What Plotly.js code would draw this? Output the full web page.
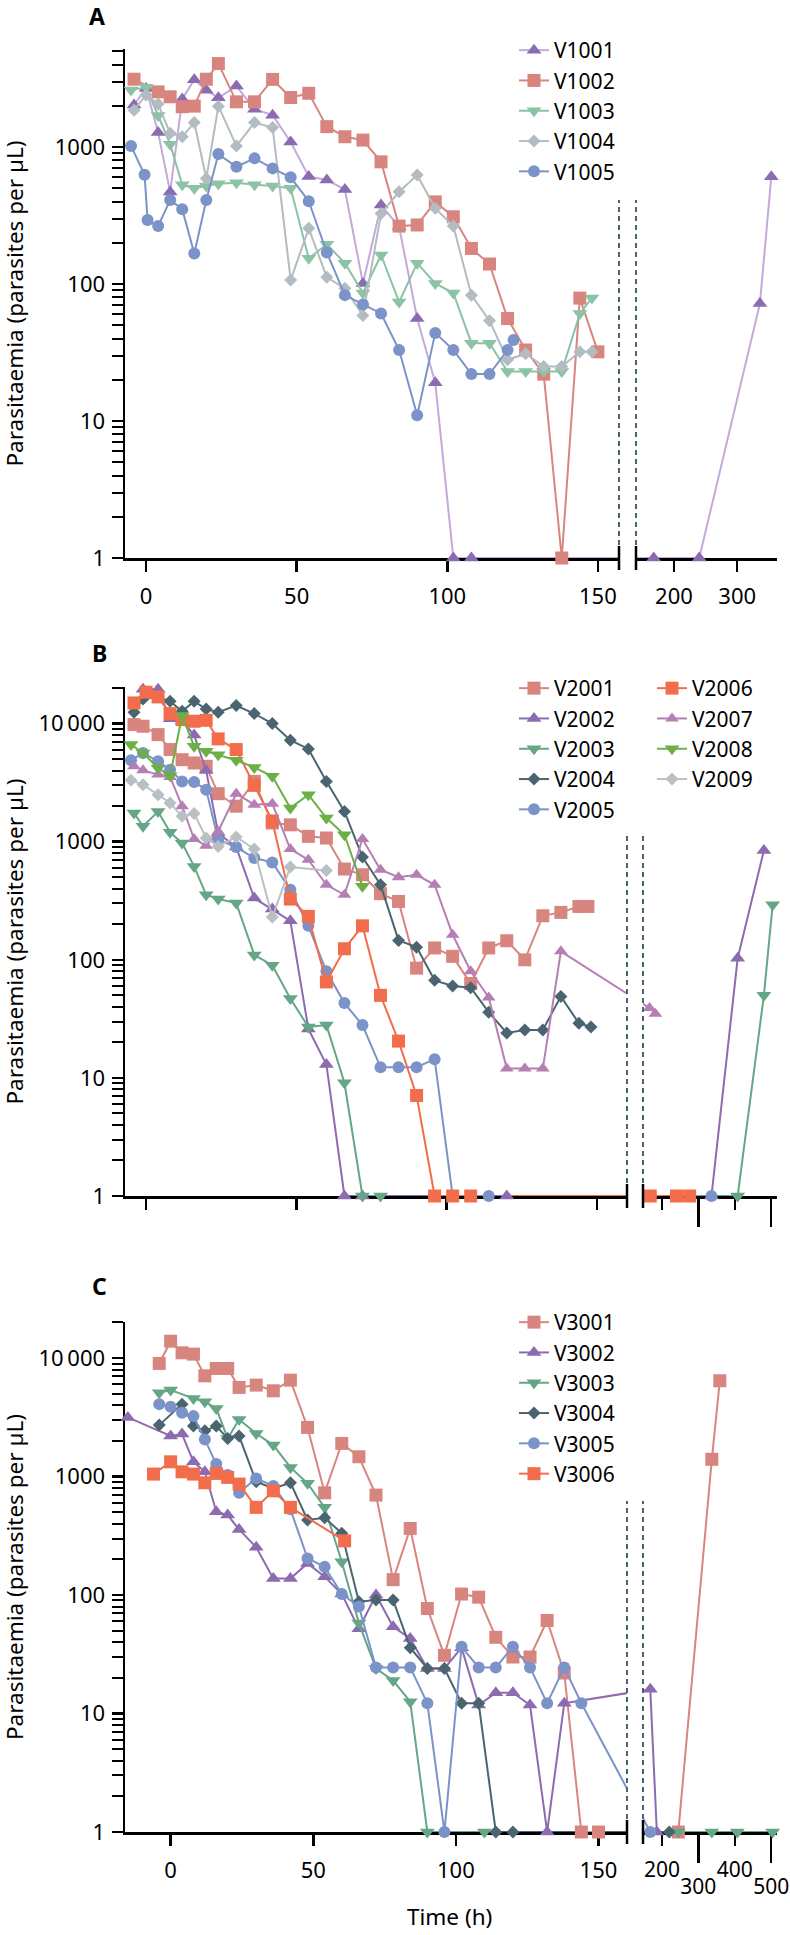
<!DOCTYPE html>
<html><head><meta charset="utf-8">
<script src="https://cdn.plot.ly/plotly-3.0.1.min.js"></script>
<style>html,body{margin:0;padding:0;background:#fff}#chart{width:790px;height:1935px}</style>
</head><body><div id="chart"></div>
<script>
// ---------------- DATA (time in h, parasitaemia per µL) ----------------
// Panel A
const V1001_t = [-4, 0, 4, 8, 12, 16, 20, 24, 30, 36, 42, 48, 54, 60, 66, 72, 78, 84, 90, 96, 102, 108, 168, 240, 336, 354];
const V1001_v = [2030, 2680, 1280, 470, 2240, 3100, 2600, 2290, 2790, 1890, 1710, 1090, 610, 575, 490, 101, 377, 262, 56, 19, 1, 1, 1, 1, 72, 607];
const V1002_t = [-4, 4, 8, 12, 16, 20, 24, 30, 36, 42, 48, 54, 60, 66, 72, 78, 84, 90, 96, 102, 108, 114, 120, 126, 132, 138, 144, 150];
const V1002_v = [3130, 2530, 2330, 1970, 1990, 3130, 4070, 2140, 2140, 3120, 2300, 2470, 1410, 1190, 1125, 780, 265, 270, 398, 310, 182, 140, 56, 33, 22, 1, 79, 32];
const V1003_t = [-5, 0, 4, 8, 12, 16, 20, 24, 30, 36, 42, 48, 54, 60, 66, 72, 78, 84, 90, 96, 102, 108, 114, 120, 126, 132, 138, 144, 148];
const V1003_v = [2610, 2730, 1700, 1050, 530, 500, 520, 540, 550, 530, 520, 500, 154, 195, 142, 86, 163, 74, 142, 101, 86, 37, 37, 23, 23, 23, 23, 61, 79];
const V1004_t = [-4, 0, 4, 8, 12, 16, 20, 24, 30, 36, 42, 48, 54, 60, 66, 72, 78, 84, 90, 96, 102, 108, 114, 120, 126, 132, 138, 144, 148];
const V1004_v = [1860, 2400, 2060, 1260, 1190, 1510, 590, 1990, 1020, 1510, 1390, 107, 255, 112, 93, 59, 328, 472, 625, 357, 265, 83, 54, 28, 31, 25, 25, 32, 32];
const V1005_t = [-5, -0.5, 0.5, 4, 8, 12, 16, 20, 24, 30, 36, 42, 48, 54, 60, 66, 72, 78, 84, 90, 96, 102, 108, 114, 120, 122];
const V1005_v = [1020, 627, 293, 265, 410, 352, 167, 410, 889, 718, 827, 699, 601, 403, 170, 83, 71, 61, 33, 11, 44, 33, 22, 22, 33, 39];
// Panel B
const V2001_t = [-4, -1, 4, 8, 12, 16, 20, 24, 30, 36, 42, 48, 54, 60, 66, 72, 78, 84, 90, 96, 102, 108, 114, 120, 126, 132, 138, 144, 147];
const V2001_v = [9810, 9500, 8070, 6030, 4950, 4640, 4350, 2550, 2000, 3240, 1440, 1390, 1110, 1075, 587, 525, 363, 312, 85, 126, 107, 63, 126, 145, 100, 236, 252, 283, 283];
const V2002_t = [-1, 4, 8, 12, 16, 20, 24, 30, 36, 42, 48, 54, 60, 66, 72, 120, 336, 408, 480];
const V2002_v = [19500, 19500, 11000, 10500, 8000, 4000, 1180, 900, 333, 269, 214, 26, 13, 1, 1, 1, 1, 103, 844];
const V2003_t = [-4, -1, 4, 8, 12, 16, 20, 24, 30, 36, 42, 48, 54, 60, 66, 72, 78, 408, 480, 504];
const V2003_v = [1750, 1350, 1800, 1200, 975, 618, 355, 327, 302, 110, 90, 47, 27, 28, 9.1, 1, 1, 1, 50, 292];
const V2004_t = [-4, -1, 4, 8, 12, 16, 20, 24, 30, 36, 42, 48, 54, 60, 66, 72, 78, 84, 90, 96, 102, 108, 114, 120, 126, 132, 138, 144, 148];
const V2004_v = [12470, 16190, 16830, 15450, 12700, 15450, 13300, 12470, 14220, 12150, 10000, 7230, 6100, 3240, 1806, 741, 432, 146, 128, 67, 60, 58, 36, 24, 25.5, 25.5, 49, 29, 27];
const V2005_t = [-5, -1, 4, 8, 12, 16, 20, 24, 30, 36, 42, 48, 54, 60, 66, 72, 78, 84, 90, 96, 102, 114, 336];
const V2005_v = [4890, 5640, 4790, 4070, 3240, 3200, 2760, 1040, 900, 728, 668, 392, 194, 80, 43, 28, 12.3, 12.3, 12.3, 14.4, 1, 1, 1];
const V2006_t = [-4, 0, 4, 8, 12, 16, 20, 24, 30, 36, 42, 48, 54, 60, 66, 72, 78, 84, 90, 96, 102, 108, 168, 240, 276];
const V2006_v = [14970, 18440, 16830, 12150, 10810, 10470, 10670, 7420, 6030, 3000, 1500, 327, 233, 65, 124, 194, 50, 20.5, 7.1, 1, 1, 1, 1, 1, 1];
const V2007_t = [-4, -1, 4, 8, 12, 16, 20, 24, 30, 36, 42, 48, 54, 60, 66, 72, 78, 84, 90, 96, 102, 108, 114, 120, 126, 132, 138, 166, 182];
const V2007_v = [4350, 4020, 3700, 3535, 2000, 1054, 925, 1222, 2550, 2060, 2100, 867, 703, 432, 355, 1054, 579, 500, 525, 432, 163, 80, 48, 12, 12, 12, 118, 39, 35];
const V2008_t = [-5, -1, 4, 8, 12, 16, 20, 24, 30, 36, 42, 48, 54, 60, 66, 72];
const V2008_v = [6640, 5640, 4210, 3625, 11700, 6430, 5820, 5460, 4890, 4260, 3575, 1930, 2500, 1585, 1146, 420];
const V2009_t = [-5, -1, 4, 8, 12, 16, 20, 24, 30, 36, 42, 48, 60];
const V2009_v = [3310, 3040, 2500, 2130, 1640, 1730, 1075, 912, 1096, 867, 230, 611, 571];
// Panel C
const V3001_t = [-4, 0, 4, 8, 12, 16, 20, 24, 30, 36, 42, 48, 54, 60, 66, 72, 78, 84, 90, 96, 102, 108, 114, 120, 126, 132, 138, 144, 150, 245, 337, 359];
const V3001_v = [9020, 13900, 11090, 10810, 7090, 8180, 8180, 5660, 5920, 5300, 6520, 2600, 730, 1905, 1470, 698, 135, 365, 77, 31, 102, 96, 44, 30, 30, 61, 22, 1, 1, 1, 1400, 6440];
const V3002_t = [-15, 0, 4, 8, 12, 16, 20, 24, 30, 36, 42, 48, 54, 60, 66, 72, 78, 84, 90, 96, 102, 108, 114, 120, 126, 132, 138, 168, 186];
const V3002_v = [3160, 2200, 2285, 1333, 1097, 505, 473, 358, 253, 138, 138, 185, 143, 102, 52, 100, 54, 43, 24, 24, 36, 11.8, 15, 15, 11.8, 1, 12.2, 16, 1];
const V3003_t = [-4, 0, 8, 12, 16, 20, 24, 30, 36, 42, 48, 54, 60, 66, 72, 78, 84, 90, 110, 245, 337, 407, 504];
const V3003_v = [5100, 5370, 4570, 4280, 3760, 2100, 3040, 2310, 1845, 1196, 877, 550, 191, 58, 24, 19, 12.6, 1, 1, 1, 1, 1, 1];
const V3004_t = [-4, 4, 8, 12, 16, 20, 24, 30, 36, 42, 48, 54, 60, 66, 72, 78, 84, 90, 96, 102, 108, 114, 120, 220];
const V3004_v = [2720, 4090, 2670, 2440, 2670, 2100, 2200, 904, 794, 887, 430, 450, 332, 88, 91, 91, 36, 24, 24, 12.2, 12.2, 1, 1, 1];
const V3005_t = [-4, 0, 4, 8, 12, 16, 20, 24, 30, 36, 42, 48, 54, 60, 66, 72, 78, 84, 90, 96, 102, 108, 114, 120, 126, 132, 138, 144, 168];
const V3005_v = [4090, 3880, 3460, 3240, 2060, 1275, 1030, 730, 966, 832, 529, 204, 173, 102, 80, 24.5, 24.5, 24.5, 12.2, 1, 36.6, 24.5, 24.5, 36.6, 24.5, 12.2, 24.5, 12.2, 1];
const V3006_t = [-6, 0, 4, 8, 12, 16, 20, 24, 30, 36, 42, 61];
const V3006_v = [1050, 1333, 1097, 1050, 887, 1064, 985, 865, 550, 759, 550, 287];

// Tick labels
const yTickVals = [1, 10, 100, 1000, 10000];
const yTickText = ['1', '10', '100', '1000', '10\u2009000'];
const xTicksLeft = [0, 50, 100, 150];
const xTicksRightA = [200, 300];
const xTicksRightShort = [200, 400];
const xTicksRightLong = [300, 500];

// ---------------- LAYOUT GEOMETRY ----------------
const W = 790, H = 1935;
const FONT = 'Noto Sans, Open Sans, DejaVu Sans, sans-serif';
const TICKSIZE = 22, LEGSIZE = 21, TITLESIZE = 22.5;
const panels = {
  A: {y: 'y',  xl: 'x',  xr: 'x2', lr: [-7, 157],  rr: [140, 363], ld: [125, 619], rd: [636, 777], yd: [49, 558],   yr: [0, 3.716], brk: 158},
  B: {y: 'y2', xl: 'x3', xr: 'x4', lr: [-7, 160],  rr: [148, 516], ld: [125, 627], rd: [643, 777], yd: [687, 1196], yr: [0, 4.31],  brk: 161},
  C: {y: 'y3', xl: 'x5', xr: 'x6', lr: [-16, 160], rr: [148, 516], ld: [125, 627], rd: [643, 777], yd: [1322, 1832], yr: [0, 4.305], brk: 161}
};

const series = [
  {p: 'A', name: 'V1001', t: V1001_t, v: V1001_v, sym: 'triangle-up', mc: '#8b6bb1', lc: '#c4a9da', size: 13, lg: 'legend'},
  {p: 'A', name: 'V1002', t: V1002_t, v: V1002_v, sym: 'square', mc: '#d9857f', lc: '#d9857f', size: 13, lg: 'legend'},
  {p: 'A', name: 'V1003', t: V1003_t, v: V1003_v, sym: 'triangle-down', mc: '#8cc2a5', lc: '#8cc2a5', size: 13, lg: 'legend'},
  {p: 'A', name: 'V1004', t: V1004_t, v: V1004_v, sym: 'diamond', mc: '#b3bcc0', lc: '#b3bcc0', size: 10, lg: 'legend'},
  {p: 'A', name: 'V1005', t: V1005_t, v: V1005_v, sym: 'circle', mc: '#7b93c8', lc: '#7b93c8', size: 12, lg: 'legend'},

  {p: 'B', name: 'V2001', t: V2001_t, v: V2001_v, sym: 'square', mc: '#d9857f', lc: '#d9857f', size: 13, lg: 'legend2'},
  {p: 'B', name: 'V2002', t: V2002_t, v: V2002_v, sym: 'triangle-up', mc: '#8d6bb0', lc: '#8d6bb0', size: 13, lg: 'legend2'},
  {p: 'B', name: 'V2003', t: V2003_t, v: V2003_v, sym: 'triangle-down', mc: '#64a686', lc: '#64a686', size: 13, lg: 'legend2'},
  {p: 'B', name: 'V2004', t: V2004_t, v: V2004_v, sym: 'diamond', mc: '#4b6570', lc: '#4b6570', size: 10, lg: 'legend2'},
  {p: 'B', name: 'V2005', t: V2005_t, v: V2005_v, sym: 'circle', mc: '#7b93c8', lc: '#7b93c8', size: 12, lg: 'legend2'},
  {p: 'B', name: 'V2006', t: V2006_t, v: V2006_v, sym: 'square', mc: '#f26d4b', lc: '#f26d4b', size: 13, lg: 'legend3'},
  {p: 'B', name: 'V2007', t: V2007_t, v: V2007_v, sym: 'triangle-up', mc: '#b67fb4', lc: '#b67fb4', size: 12, lg: 'legend3'},
  {p: 'B', name: 'V2008', t: V2008_t, v: V2008_v, sym: 'triangle-down', mc: '#6cb045', lc: '#6cb045', size: 13, lg: 'legend3'},
  {p: 'B', name: 'V2009', t: V2009_t, v: V2009_v, sym: 'diamond', mc: '#b8c0c4', lc: '#b8c0c4', size: 10, lg: 'legend3'},

  {p: 'C', name: 'V3001', t: V3001_t, v: V3001_v, sym: 'square', mc: '#d9857f', lc: '#d9857f', size: 13, lg: 'legend4'},
  {p: 'C', name: 'V3002', t: V3002_t, v: V3002_v, sym: 'triangle-up', mc: '#8d6bb0', lc: '#8d6bb0', size: 13, lg: 'legend4'},
  {p: 'C', name: 'V3003', t: V3003_t, v: V3003_v, sym: 'triangle-down', mc: '#64a686', lc: '#64a686', size: 13, lg: 'legend4'},
  {p: 'C', name: 'V3004', t: V3004_t, v: V3004_v, sym: 'diamond', mc: '#4b6570', lc: '#4b6570', size: 10, lg: 'legend4'},
  {p: 'C', name: 'V3005', t: V3005_t, v: V3005_v, sym: 'circle', mc: '#7b93c8', lc: '#7b93c8', size: 12, lg: 'legend4'},
  {p: 'C', name: 'V3006', t: V3006_t, v: V3006_v, sym: 'square', mc: '#f26d4b', lc: '#f26d4b', size: 13, lg: 'legend4'}
];

// ---------------- TRACES ----------------
const traces = [];
function pxL(P, t) { return P.ld[0] + (t - P.lr[0]) / (P.lr[1] - P.lr[0]) * (P.ld[1] - P.ld[0]); }
function pxR(P, t) { return P.rd[0] + (t - P.rr[0]) / (P.rr[1] - P.rr[0]) * (P.rd[1] - P.rd[0]); }
function pxToL(P, px) { return P.lr[0] + (px - P.ld[0]) / (P.ld[1] - P.ld[0]) * (P.lr[1] - P.lr[0]); }
function pxToR(P, px) { return P.rr[0] + (px - P.rd[0]) / (P.rd[1] - P.rd[0]) * (P.rr[1] - P.rr[0]); }

// line segments that cross the axis break (drawn beneath the markers)
series.forEach(s => {
  const P = panels[s.p];
  for (let i = 0; i < s.t.length - 1; i++) {
    if (s.t[i] < P.brk && s.t[i + 1] >= P.brk) {
      const tL = s.t[i], tR = s.t[i + 1], vL = s.v[i], vR = s.v[i + 1];
      const common = {type: 'scatter', mode: 'lines', line: {color: s.lc, width: 2}, showlegend: false, hoverinfo: 'skip', yaxis: P.y};
      traces.push(Object.assign({}, common, {x: [tL, pxToL(P, pxR(P, tR))], y: [vL, vR], xaxis: P.xl}));
      traces.push(Object.assign({}, common, {x: [pxToR(P, pxL(P, tL)), tR], y: [vL, vR], xaxis: P.xr}));
    }
  }
});

series.forEach(s => {
  const P = panels[s.p];
  const lt = [], lv = [], rt = [], rv = [];
  s.t.forEach((t, i) => { if (t < P.brk) { lt.push(t); lv.push(s.v[i]); } else { rt.push(t); rv.push(s.v[i]); } });
  const base = {type: 'scatter', mode: 'lines+markers', name: s.name, yaxis: P.y, cliponaxis: false,
    line: {color: s.lc, width: 2}, marker: {symbol: s.sym, color: s.mc, size: s.size}, legend: s.lg};
  traces.push(Object.assign({}, base, {x: lt, y: lv, xaxis: P.xl, showlegend: true}));
  if (rt.length) traces.push(Object.assign({}, base, {x: rt, y: rv, xaxis: P.xr, showlegend: false}));
});

// dummy traces to register overlay axes
traces.push({type: 'scatter', mode: 'markers', x: [300], y: [1], xaxis: 'x7', yaxis: 'y3', marker: {opacity: 0}, showlegend: false, hoverinfo: 'skip'});
traces.push({type: 'scatter', mode: 'markers', x: [300], y: [1], xaxis: 'x8', yaxis: 'y2', marker: {opacity: 0}, showlegend: false, hoverinfo: 'skip'});

// ---------------- AXES ----------------
const axisBase = {showline: true, linecolor: '#000', linewidth: 2.5, ticks: 'outside', ticklen: 11, tickwidth: 2.5,
  tickcolor: '#000', showgrid: false, zeroline: false, fixedrange: true, layer: 'below traces',
  tickfont: {family: FONT, size: TICKSIZE, color: '#000'}};
function xAx(P, side, tickvals, extra) {
  const d = side === 'l' ? P.ld : P.rd;
  return Object.assign({}, axisBase, {domain: [d[0] / W, d[1] / W], range: side === 'l' ? P.lr : P.rr, type: 'linear',
    anchor: P.y, tickmode: 'array', tickvals: tickvals, ticktext: tickvals.map(String), ticklabelstandoff: 6}, extra || {});
}
const minorVals = [];
[1, 10, 100, 1000, 10000].forEach(d => { for (let k = 2; k <= 9; k++) minorVals.push(k * d); });
function yAx(P) {
  return Object.assign({}, axisBase, {domain: [1 - P.yd[1] / H, 1 - P.yd[0] / H], range: P.yr, type: 'log', anchor: P.xl,
    tickmode: 'array', tickvals: yTickVals, ticktext: yTickText, ticklabelstandoff: 2,
    minor: {tickmode: 'array', tickvals: minorVals, ticks: 'outside', ticklen: 11, tickwidth: 2, tickcolor: '#000'}});
}
const A = panels.A, B = panels.B, C = panels.C;
function leg(x, ytop) {
  return {x: x / W, xanchor: 'left', y: 1 - ytop / H, yanchor: 'top', font: {family: FONT, size: LEGSIZE, color: '#000'},
    bgcolor: 'rgba(0,0,0,0)', tracegroupgap: 0};
}
const rightFont = {family: FONT, size: 21, color: '#000'};

const layout = {
  width: W, height: H, autosize: false, margin: {l: 0, r: 0, t: 0, b: 0},
  paper_bgcolor: '#fff', plot_bgcolor: 'rgba(0,0,0,0)', font: {family: FONT, color: '#000', size: 20},
  hovermode: false,
  xaxis: xAx(A, 'l', xTicksLeft),
  xaxis2: xAx(A, 'r', xTicksRightA),
  yaxis: yAx(A),
  xaxis3: xAx(B, 'l', xTicksLeft, {showticklabels: false}),
  xaxis4: xAx(B, 'r', xTicksRightShort, {showticklabels: false}),
  xaxis8: Object.assign(xAx(B, 'r', xTicksRightLong, {showticklabels: false, ticklen: 30, showline: false}), {overlaying: 'x4'}),
  yaxis2: yAx(B),
  xaxis5: xAx(C, 'l', xTicksLeft),
  xaxis6: xAx(C, 'r', xTicksRightShort, {tickfont: rightFont, ticklabeloverflow: 'allow'}),
  xaxis7: Object.assign(xAx(C, 'r', xTicksRightLong, {ticklen: 30, showline: false, tickfont: rightFont, ticklabeloverflow: 'allow'}), {overlaying: 'x6'}),
  yaxis3: yAx(C),
  legend: leg(514, 30),
  legend2: leg(514, 668),
  legend3: leg(652, 668),
  legend4: leg(514, 1302),
  shapes: [],
  annotations: []
};

// break caps and dashed lines
function breakDecor(P, dashTop) {
  const yAxisPx = P.yd[1];
  [[P.xl, 1], [P.xr, 0]].forEach(([ax, pos]) => {
    layout.shapes.push({type: 'line', xref: ax + ' domain', x0: pos, x1: pos, yref: 'paper',
      y0: 1 - (yAxisPx + 12) / H, y1: 1 - (yAxisPx - 12) / H, line: {color: '#000', width: 2.5}});
    layout.shapes.push({type: 'line', xref: ax + ' domain', x0: pos, x1: pos, yref: 'paper',
      y0: 1 - (yAxisPx - 13) / H, y1: 1 - dashTop / H, line: {color: '#4b6570', width: 2, dash: '5px,4px'}});
  });
}
breakDecor(A, 200);
breakDecor(B, 833);
breakDecor(C, 1501);

// panel letters, axis titles
[['A', 97, 16], ['B', 99, 653], ['C', 99, 1286]].forEach(([txt, x, y]) => {
  layout.annotations.push({text: '<b>' + txt + '</b>', xref: 'paper', yref: 'paper', x: x / W, y: 1 - y / H,
    xanchor: 'center', yanchor: 'middle', showarrow: false, font: {family: FONT, size: 23, color: '#000'}});
});
[A, B, C].forEach(P => {
  layout.annotations.push({text: 'Parasitaemia (parasites per µL)', textangle: -90, xref: 'paper', yref: 'paper',
    x: 14 / W, y: 1 - (P.yd[0] + P.yd[1]) / 2 / H, xanchor: 'center', yanchor: 'middle', showarrow: false,
    font: {family: FONT, size: TITLESIZE, color: '#000'}});
});
layout.annotations.push({text: 'Time (h)', xref: 'paper', yref: 'paper', x: 449 / W, y: 1 - 1934 / H,
  xanchor: 'center', yanchor: 'bottom', showarrow: false, font: {family: FONT, size: TITLESIZE, color: '#000'}});

Plotly.newPlot('chart', traces, layout, {staticPlot: true, displayModeBar: false});
</script>
</body></html>
